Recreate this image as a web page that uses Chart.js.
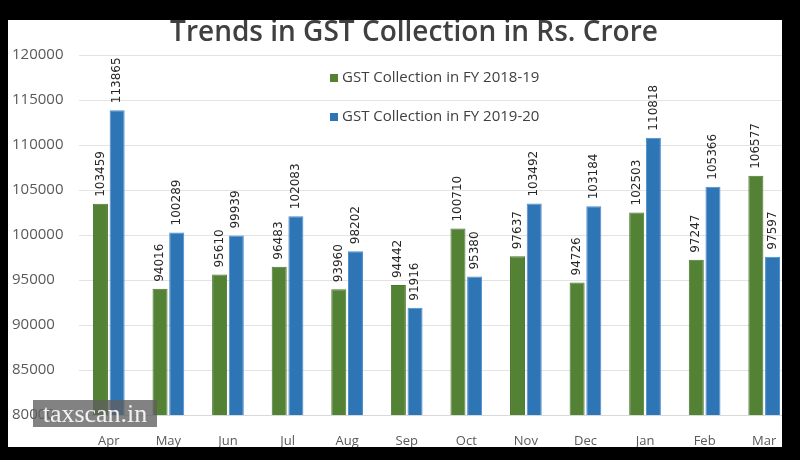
<!DOCTYPE html>
<html>
<head>
<meta charset="utf-8">
<script src="https://cdn.jsdelivr.net/npm/chart.js@4"></script>
<style>
  html, body { margin: 0; padding: 0; background: #000; }
  #panel {
    position: absolute; left: 8px; top: 20px; width: 774px; height: 427px;
    background: #fff; overflow: hidden;
  }
  #wrap { position: absolute; left: -8px; top: -20px; width: 800px; height: 460px; }
  #marca {
    position: absolute; left: 33px; top: 400px; width: 124px; height: 27px;
    background: rgba(95, 95, 95, 0.78); color: #f2f2f2;
    font: 26px "Liberation Serif", serif; line-height: 27px; text-align: center;
  }
</style>
</head>
<body>
<div id="panel">
  <div id="wrap"><canvas id="graficoGST" width="800" height="460"></canvas></div>
</div>
<div id="marca">taxscan.in</div>
<script>
// Datos del gráfico
const meses = ['Apr', 'May', 'Jun', 'Jul', 'Aug', 'Sep', 'Oct', 'Nov', 'Dec', 'Jan', 'Feb', 'Mar'];
const fy1819 = [103459, 94016, 95610, 96483, 93960, 94442, 100710, 97637, 94726, 102503, 97247, 106577];
const fy1920 = [113865, 100289, 99939, 102083, 98202, 91916, 95380, 103492, 103184, 110818, 105366, 97597];
const series = ['GST Collection in FY 2018-19', 'GST Collection in FY 2019-20'];
const colores = ['#548235', '#2e75b6'];
const titulo = 'Trends in GST Collection in Rs. Crore';

// Etiquetas verticales encima de cada barra
const etiquetas = {
    id: 'etiquetas',
    afterDatasetsDraw(chart) {
        const ctx = chart.ctx;
        ctx.save();
        ctx.font = '12px "DejaVu Sans"';
        ctx.fillStyle = '#262626';
        ctx.textAlign = 'left';
        ctx.textBaseline = 'middle';
        chart.data.datasets.forEach((ds, i) => {
            chart.getDatasetMeta(i).data.forEach((bar, j) => {
                ctx.save();
                ctx.translate(bar.x, bar.y - 7);
                ctx.rotate(-Math.PI / 2);
                ctx.fillText(ds.data[j], 0, 0);
                ctx.restore();
            });
        });
        ctx.restore();
    }
};

// Título y leyenda dibujados dentro del área
const tituloLeyenda = {
    id: 'tituloLeyenda',
    afterDraw(chart) {
        const ctx = chart.ctx;
        ctx.save();
        ctx.fillStyle = '#404040';
        ctx.font = '600 28px "Open Sans"';
        ctx.textAlign = 'center';
        ctx.textBaseline = 'middle';
        ctx.fillText(titulo, 414, 33);

        ctx.font = '15px "Open Sans"';
        ctx.textAlign = 'left';
        const filas = [78, 117];
        series.forEach((nombre, i) => {
            ctx.fillStyle = colores[i];
            ctx.fillRect(330, filas[i] - 4, 8, 8);
            ctx.fillStyle = '#404040';
            ctx.fillText(nombre, 342, filas[i]);
        });
        ctx.restore();
    }
};

const ctx = document.getElementById('graficoGST').getContext('2d');
const graficoGST = new Chart(ctx, {
    type: 'bar',
    data: {
        labels: meses,
        datasets: [{
            label: series[0],
            data: fy1819,
            backgroundColor: colores[0],
            borderColor: '#4a7530',
            borderWidth: 1,
        }, {
            label: series[1],
            data: fy1920,
            backgroundColor: colores[1],
            borderColor: '#4a8ccc',
            borderWidth: 1,
        }]
    },
    options: {
        responsive: false,
        animation: false,
        layout: { padding: { left: 12, right: 6, top: 55, bottom: 0 } },
        datasets: { bar: { categoryPercentage: 0.56, barPercentage: 0.9 } },
        plugins: {
            legend: { display: false },
            title: { display: false },
            tooltip: { enabled: false }
        },
        scales: {
            x: {
                grid: { display: false, drawTicks: false },
                border: { color: '#d9d9d9' },
                ticks: { color: '#595959', font: { family: 'Open Sans', size: 13 }, padding: 18 },
                afterFit(scale) { scale.height = 45; }
            },
            y: {
                min: 80000,
                max: 120000,
                border: { display: false },
                grid: { color: '#e3e3e3', drawTicks: false },
                ticks: {
                    stepSize: 5000,
                    crossAlign: 'far',
                    color: '#595959',
                    font: { family: 'Open Sans', size: 15 },
                    callback: (v) => String(v)
                },
                afterFit(scale) { scale.width = 67; }
            }
        }
    },
    plugins: [etiquetas, tituloLeyenda]
});
</script>
</body>
</html>
